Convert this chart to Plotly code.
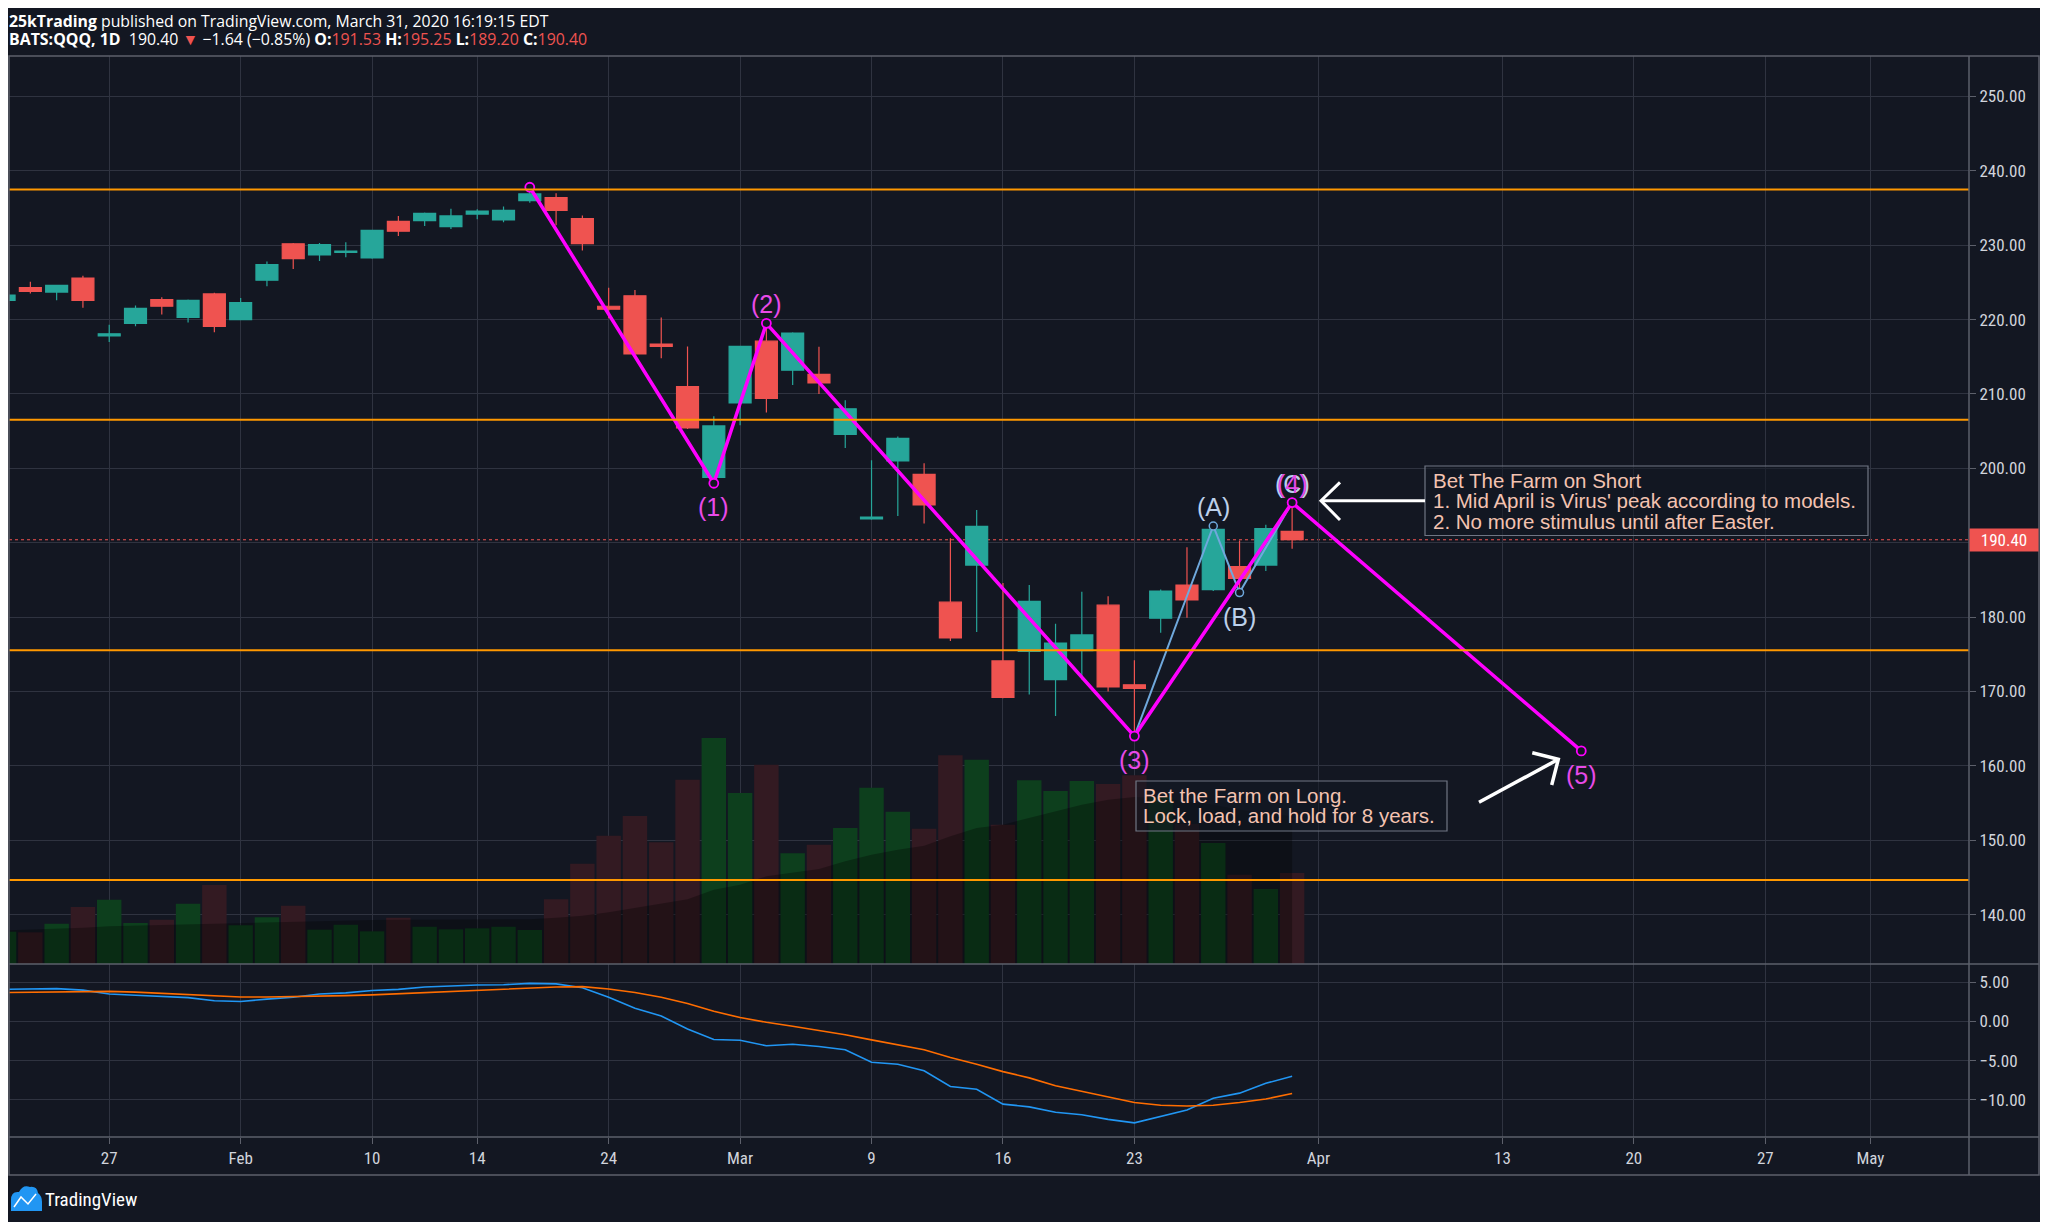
import plotly.graph_objects as go

# ---------------- data ----------------
dates = ["2020-01-21", "2020-01-22", "2020-01-23", "2020-01-24", "2020-01-27", "2020-01-28", "2020-01-29", "2020-01-30", "2020-01-31",
         "2020-02-03", "2020-02-04", "2020-02-05", "2020-02-06", "2020-02-07", "2020-02-10", "2020-02-11", "2020-02-12", "2020-02-13",
         "2020-02-14", "2020-02-18", "2020-02-19", "2020-02-20", "2020-02-21", "2020-02-24", "2020-02-25", "2020-02-26", "2020-02-27",
         "2020-02-28", "2020-03-02", "2020-03-03", "2020-03-04", "2020-03-05", "2020-03-06", "2020-03-09", "2020-03-10", "2020-03-11",
         "2020-03-12", "2020-03-13", "2020-03-16", "2020-03-17", "2020-03-18", "2020-03-19", "2020-03-20", "2020-03-23", "2020-03-24",
         "2020-03-25", "2020-03-26", "2020-03-27", "2020-03-30", "2020-03-31"]

opens = [222.6, 224.3, 223.7, 225.6, 217.8, 219.5, 222.7, 220.3, 223.45,
         220.0, 225.3, 230.2, 228.7, 229.05, 228.3, 233.2, 233.3, 232.5, 234.2, 233.4, 236.0, 236.4, 233.6, 221.8, 223.2, 216.7, 211.0, 198.8,
         208.8, 217.1, 213.2, 212.65, 204.55, 193.2, 201.0, 199.2, 182.0, 187.0, 174.1, 175.4, 171.6, 175.5, 181.6, 170.9, 179.85, 184.3,
         183.7, 186.8, 187.0, 191.53]
highs = [223.4, 225.1, 224.7, 225.9, 219.3, 221.9, 223.0, 222.7, 223.6,
         222.9, 227.8, 230.3, 230.3, 230.4, 232.05, 233.95, 234.4, 234.9, 234.85, 235.2, 237.2, 237.0, 234.0, 224.3, 224.0, 220.3, 216.4, 207.0,
         216.5, 219.5, 218.3, 216.35, 209.15, 201.1, 204.3, 200.7, 190.6, 194.4, 184.6, 184.3, 179.1, 183.4, 182.8, 174.2, 183.7, 189.4,
         192.25, 190.3, 192.4, 195.25]
lows = [222.4, 223.5, 222.6, 221.6, 217.0, 219.1, 220.7, 219.6, 218.3,
        219.9, 224.5, 226.8, 227.9, 228.4, 228.2, 231.25, 232.6, 232.2, 233.5, 233.1, 235.7, 232.7, 229.3, 220.2, 215.3, 214.8, 205.3, 198.3,
        205.8, 207.5, 211.2, 210.0, 202.75, 193.1, 193.6, 192.6, 176.8, 178.0, 169.1, 169.6, 166.7, 171.6, 170.0, 164.0, 177.9, 179.9,
        183.5, 183.3, 186.2, 189.2]
closes = [223.3, 223.8, 224.6, 222.6, 218.1, 221.5, 221.8, 222.6, 219.1,
          222.3, 227.4, 228.2, 230.1, 229.2, 232.0, 231.9, 234.3, 233.95, 234.6, 234.7, 236.9, 234.7, 230.2, 221.4, 215.4, 216.4, 205.45, 205.7,
          216.4, 209.4, 218.2, 211.5, 208.0, 193.45, 204.05, 195.1, 177.2, 192.2, 169.2, 182.1, 176.5, 177.6, 170.6, 170.4, 183.5, 182.3,
          191.8, 185.2, 191.9, 190.4]

volumes = [19.4, 19.0, 24.2, 34.2, 38.6, 24.6, 26.6, 36.2, 47.4,
           23.2, 28.0, 35.0, 20.6, 23.6, 19.6, 27.8, 22.4, 20.8, 21.4, 22.4, 20.4, 38.8, 60.2, 77.0, 88.8, 73.0, 110.6, 135.6,
           102.6, 119.6, 66.4, 71.6, 81.6, 105.8, 91.4, 81.2, 125.2, 122.6, 83.6, 110.2, 103.8, 109.8, 108.0, 113.2, 100.0, 84.0,
           72.6, 53.6, 45.0, 54.6]
volume_ma = [20.2, 20.6, 21.2, 21.8, 22.6, 23.0, 23.4, 23.8, 24.3,
             24.6, 25.0, 25.5, 25.8, 26.1, 26.4, 26.6, 26.6, 26.6, 26.6, 26.7, 26.9, 27.8, 29.0, 31.0, 33.6, 36.0, 38.8, 44.6,
             47.6, 52.6, 55.0, 57.0, 61.6, 65.6, 68.6, 71.0, 76.6, 81.6, 83.6, 87.6, 91.6, 95.6, 98.6, 100.2, 99.6, 97.6,
             95.6, 92.6, 90.6, 88.6]

macd = [4.1, 4.15, 4.2, 4.0, 3.5, 3.35, 3.2, 3.05, 2.65,
        2.55, 2.85, 3.1, 3.5, 3.65, 3.95, 4.1, 4.4, 4.55, 4.65, 4.7, 4.87, 4.8, 4.3, 3.1, 1.7, 0.7, -0.95, -2.3,
        -2.4, -3.1, -2.9, -3.2, -3.6, -5.2, -5.45, -6.3, -8.3, -8.65, -10.55, -10.9, -11.6, -11.9, -12.5, -12.95, -12.1, -11.3,
        -9.8, -9.15, -7.9, -7.0]
signal = [3.7, 3.75, 3.8, 3.85, 3.85, 3.75, 3.6, 3.45, 3.25,
          3.12, 3.12, 3.15, 3.2, 3.3, 3.4, 3.55, 3.7, 3.85, 4.0, 4.15, 4.3, 4.4, 4.45, 4.15, 3.7, 3.1, 2.3, 1.3,
          0.5, -0.1, -0.6, -1.15, -1.7, -2.35, -3.0, -3.6, -4.6, -5.45, -6.4, -7.2, -8.2, -8.9, -9.65, -10.35, -10.7, -10.8,
          -10.7, -10.35, -9.9, -9.2]

hlines = [237.5, 206.55, 175.55, 144.65]
last_price = 190.40

wave_dates = ["2020-02-19", "2020-02-28", "2020-03-03", "2020-03-23", "2020-03-31", "2020-04-16"]
wave_prices = [237.8, 198.0, 219.5, 164.0, 195.4, 162.0]
wave_labels = ["", "(1)", "(2)", "(3)", "(4)", "(5)"]
wave_above = [True, False, True, False, True, False]

abc_dates = ["2020-03-23", "2020-03-26", "2020-03-27", "2020-03-31"]
abc_prices = [164.0, 192.25, 183.3, 195.4]
abc_labels = ["", "(A)", "(B)", "(C)"]
abc_above = [False, True, False, True]

tick_dates = ["2020-01-27", "2020-02-03", "2020-02-10", "2020-02-14", "2020-02-24", "2020-03-02", "2020-03-09",
              "2020-03-16", "2020-03-23", "2020-04-01", "2020-04-13", "2020-04-20", "2020-04-27", "2020-05-01"]
tick_labels = ["27", "Feb", "10", "14", "24", "Mar", "9", "16", "23", "Apr", "13", "20", "27", "May"]
price_ticks = [140, 150, 160, 170, 180, 190, 200, 210, 220, 230, 240, 250]
macd_ticks = [5, 0, -5, -10]
holidays = ["2020-02-17", "2020-04-10"]

short_note = ["Bet The Farm on Short",
              "1. Mid April is Virus' peak according to models.",
              "2. No more stimulus until after Easter."]
long_note = ["Bet the Farm on Long.",
             "Lock, load, and hold for 8 years."]

# ---------------- style ----------------
BG = "#131722"
GRID = "#2f3340"
BORDER = "#5d606b"
UP = "#26a69a"
DOWN = "#ef5350"
VOL_UP = "#0d3f1d"
VOL_DOWN = "#331a22"
MAGENTA = "#ff00ff"
ABC_BLUE = "#6fa8dc"
LBL_MAG = "#e84ae8"
LBL_BLUE = "#bcd0ea"
NOTE = "#f4c3b1"
TXT = "#d1d4dc"
NARROW = "Liberation Sans Narrow, Roboto Condensed, Roboto, sans-serif"
SANS = "Liberation Sans, Arial, sans-serif"
HEAD = "Open Sans, Liberation Sans, sans-serif"

# page body has an 8px margin: the figure is shrunk so the plot lands on the same absolute pixels
OFF = 8
W, H = 2048 - OFF, 1222 - OFF
L_PX, R_PX, T_PX, B_PX = 9, 1969, 56, 1137   # absolute page pixels of the plot area


def px(x):
    return (x - L_PX) / (R_PX - L_PX)


def py(y):
    return (B_PX - y) / (B_PX - T_PX)


split = py(964)

fig = go.Figure()

vol_colors = [VOL_UP if c >= o else VOL_DOWN for o, c in zip(opens, closes)]
fig.add_trace(go.Bar(x=dates, y=volumes, marker=dict(color=vol_colors, line=dict(width=0)),
                     width=0.93 * 86400000, xaxis="x", yaxis="y", hoverinfo="skip"))
fig.add_trace(go.Scatter(x=dates, y=volume_ma, mode="lines", line=dict(width=0, color="rgba(0,0,0,0)"),
                         fill="tozeroy", fillcolor="rgba(0,0,0,0.30)", xaxis="x", yaxis="y", hoverinfo="skip"))

fig.add_trace(go.Candlestick(x=dates, open=opens, high=highs, low=lows, close=closes,
                             increasing=dict(line=dict(color=UP, width=1.2), fillcolor=UP),
                             decreasing=dict(line=dict(color=DOWN, width=1.2), fillcolor=DOWN),
                             xaxis="x", yaxis="y3", hoverinfo="skip"))

fig.add_trace(go.Scatter(x=abc_dates, y=abc_prices, mode="lines+markers",
                         line=dict(color=ABC_BLUE, width=2),
                         marker=dict(size=8, color=BG, line=dict(color=ABC_BLUE, width=1.5)),
                         xaxis="x", yaxis="y3", hoverinfo="skip"))
fig.add_trace(go.Scatter(x=wave_dates, y=wave_prices, mode="lines+markers",
                         line=dict(color=MAGENTA, width=3.5),
                         marker=dict(size=9, color=BG, line=dict(color=MAGENTA, width=1.8)),
                         xaxis="x", yaxis="y3", hoverinfo="skip"))

fig.add_trace(go.Scatter(x=dates, y=macd, mode="lines", line=dict(color="#2196f3", width=1.6),
                         xaxis="x2", yaxis="y2", hoverinfo="skip"))
fig.add_trace(go.Scatter(x=dates, y=signal, mode="lines", line=dict(color="#ff6d00", width=1.6),
                         xaxis="x2", yaxis="y2", hoverinfo="skip"))

rb = [dict(bounds=["sat", "mon"]), dict(values=holidays)]
xrange = ["2020-01-21 04:30", "2020-05-06 18:00"]

shapes = []
for h in hlines:
    shapes.append(dict(type="line", xref="paper", yref="y3", x0=0, x1=1, y0=h, y1=h,
                       line=dict(color="#ff9800", width=2), layer="above"))
shapes.append(dict(type="line", xref="paper", yref="y3", x0=0, x1=1, y0=last_price, y1=last_price,
                   line=dict(color=DOWN, width=1, dash="dot"), layer="below"))
# frame and pane separators
shapes += [
    dict(type="rect", xref="paper", yref="paper", x0=0, x1=px(2039), y0=py(1175), y1=1,
         line=dict(color=BORDER, width=1.5), fillcolor="rgba(0,0,0,0)", layer="above"),
    dict(type="line", xref="paper", yref="paper", x0=0, x1=px(2039), y0=split, y1=split,
         line=dict(color=BORDER, width=1.5), layer="above"),
    dict(type="line", xref="paper", yref="paper", x0=0, x1=px(2039), y0=0, y1=0,
         line=dict(color=BORDER, width=1.5), layer="above"),
    dict(type="line", xref="paper", yref="paper", x0=1, x1=1, y0=py(1175), y1=1,
         line=dict(color=BORDER, width=1.5), layer="above"),
]
# note boxes
shapes.append(dict(type="rect", xref="paper", yref="paper", x0=px(1425), x1=px(1868), y0=py(535.5), y1=py(466),
                   line=dict(color="#707684", width=1.2), fillcolor="rgba(19,23,34,0.55)", layer="above"))
shapes.append(dict(type="rect", xref="paper", yref="paper", x0=px(1136), x1=px(1447), y0=py(831), y1=py(781),
                   line=dict(color="#707684", width=1.2), fillcolor="rgba(19,23,34,0.55)", layer="above"))


def pth(points):
    s = ""
    for i, (a, b) in enumerate(points):
        s += ("M" if i == 0 else "L") + f"{px(a):.5f},{py(b):.5f} "
    return s.strip()


# arrows
arrow_style = dict(color="#ffffff", width=3)
shapes.append(dict(type="path", xref="paper", yref="paper", path=pth([(1425, 500.7), (1322, 500.7)]),
                   line=arrow_style, layer="above"))
shapes.append(dict(type="path", xref="paper", yref="paper", path=pth([(1340, 482.3), (1321, 500.7), (1340, 520)]),
                   line=arrow_style, layer="above"))
shapes.append(dict(type="path", xref="paper", yref="paper", path=pth([(1479, 802.3), (1557, 760)]),
                   line=dict(color="#ffffff", width=3.5), layer="above"))
shapes.append(dict(type="path", xref="paper", yref="paper", path=pth([(1532.3, 752.7), (1558.3, 759.3), (1551.7, 785)]),
                   line=dict(color="#ffffff", width=3.5), layer="above"))
# TradingView logo glyph
shapes.append(dict(type="path", xref="paper", yref="paper",
                   path=(f"M{px(11):.5f},{py(1211):.5f} L{px(11):.5f},{py(1200):.5f} "
                         f"Q{px(11):.5f},{py(1191):.5f} {px(19):.5f},{py(1192):.5f} "
                         f"Q{px(23):.5f},{py(1184):.5f} {px(30):.5f},{py(1187):.5f} "
                         f"Q{px(37):.5f},{py(1186):.5f} {px(38):.5f},{py(1193):.5f} "
                         f"Q{px(42):.5f},{py(1196):.5f} {px(42):.5f},{py(1202):.5f} "
                         f"L{px(42):.5f},{py(1211):.5f} Z"),
                   fillcolor="#2196f3", line=dict(width=0), layer="above"))
shapes.append(dict(type="path", xref="paper", yref="paper",
                   path=pth([(14, 1207), (21, 1197), (28, 1204), (36, 1194)]),
                   line=dict(color="#ffffff", width=1.5), layer="above"))

ann = []
# header
ann.append(dict(xref="paper", yref="paper", x=px(8), y=py(8.5), xanchor="left", yanchor="top", showarrow=False,
                borderpad=0,
                text="<b>25kTrading</b> published on TradingView.com, March 31, 2020 16:19:15 EDT",
                font=dict(family=HEAD, size=15.8, color="#ffffff")))
red = lambda s: f"<span style='color:{DOWN}'>{s}</span>"
ann.append(dict(xref="paper", yref="paper", x=px(8), y=py(38.5), xanchor="left", yanchor="middle", showarrow=False,
                borderpad=0,
                text=("<b>BATS:QQQ, 1D</b>  190.40 " + red("▼") + " \u22121.64 (\u22120.85%) "
                      + "<b>O:</b>" + red("191.53") + " <b>H:</b>" + red("195.25")
                      + " <b>L:</b>" + red("189.20") + " <b>C:</b>" + red("190.40")),
                font=dict(family=HEAD, size=15.9, color="#ffffff")))
# logo text
ann.append(dict(xref="paper", yref="paper", x=px(43), y=py(1199), xanchor="left", yanchor="middle", showarrow=False,
                text="TradingView", font=dict(family=NARROW, size=19, color="#ffffff")))
# last price tag
ann.append(dict(xref="paper", yref="y3", x=1, y=last_price, xanchor="left", yanchor="middle", showarrow=False,
                text="190.40", bgcolor=DOWN, width=64, height=18, borderpad=2, align="center",
                font=dict(family=NARROW, size=17, color="#ffffff")))
# wave labels
for d, p, t, up in zip(abc_dates, abc_prices, abc_labels, abc_above):
    if t:
        ann.append(dict(xref="x", yref="y3", x=d, y=p, text=t, showarrow=False, yshift=19 if up else -24,
                        font=dict(family=SANS, size=25, color=LBL_BLUE)))
for d, p, t, up in zip(wave_dates, wave_prices, wave_labels, wave_above):
    if t:
        ann.append(dict(xref="x", yref="y3", x=d, y=p, text=t, showarrow=False, yshift=19 if up else -24,
                        font=dict(family=SANS, size=25, color=LBL_MAG)))
# notes
for i, line in enumerate(short_note):
    ann.append(dict(xref="paper", yref="paper", x=px(1431), y=py(480.6 + 20.2 * i), xanchor="left", yanchor="middle",
                    showarrow=False, text=line, font=dict(family=SANS, size=20.5, color=NOTE)))
for i, line in enumerate(long_note):
    ann.append(dict(xref="paper", yref="paper", x=px(1141), y=py(795.7 + 20.0 * i), xanchor="left", yanchor="middle",
                    showarrow=False, text=line, font=dict(family=SANS, size=20.5, color=NOTE)))

axis_font = dict(family=NARROW, size=17, color=TXT)

fig.update_layout(
    width=W, height=H,
    margin=dict(l=L_PX - OFF, r=W - (R_PX - OFF), t=T_PX - OFF, b=H - (B_PX - OFF), pad=0),
    paper_bgcolor=BG, plot_bgcolor=BG,
    showlegend=False,
    boxgap=0.12, boxgroupgap=0.05,
    shapes=shapes, annotations=ann,
    xaxis=dict(type="date", domain=[0, 1], anchor="y", range=xrange, rangebreaks=rb,
               tickvals=tick_dates, ticktext=tick_labels, showticklabels=False, ticks="",
               showgrid=True, gridcolor=GRID, gridwidth=1, zeroline=False, showline=False,
               rangeslider=dict(visible=False), fixedrange=True),
    xaxis2=dict(type="date", domain=[0, 1], anchor="y2", range=xrange, rangebreaks=rb, matches="x",
                tickvals=tick_dates, ticktext=tick_labels, showticklabels=True, ticks="outside", ticklen=6,
                tickcolor=BORDER, tickfont=axis_font, showgrid=True, gridcolor=GRID, gridwidth=1,
                zeroline=False, showline=False),
    yaxis=dict(domain=[split, 1], range=[0, 544.8], visible=False, showgrid=False, fixedrange=True),
    yaxis3=dict(overlaying="y", side="right", anchor="x", range=[133.35, 255.45], tickvals=price_ticks,
                tickformat=".2f", ticks="outside", ticklen=6, tickcolor=BORDER, tickfont=axis_font,
                showgrid=True, gridcolor=GRID, gridwidth=1, zeroline=False, showline=False),
    yaxis2=dict(domain=[0, split], anchor="x2", side="right", range=[-14.75, 7.34], tickvals=macd_ticks,
                tickformat=".2f", ticks="outside", ticklen=6, tickcolor=BORDER, tickfont=axis_font,
                showgrid=True, gridcolor=GRID, gridwidth=1, zeroline=False, showline=False),
)

fig.write_html("out.html")
